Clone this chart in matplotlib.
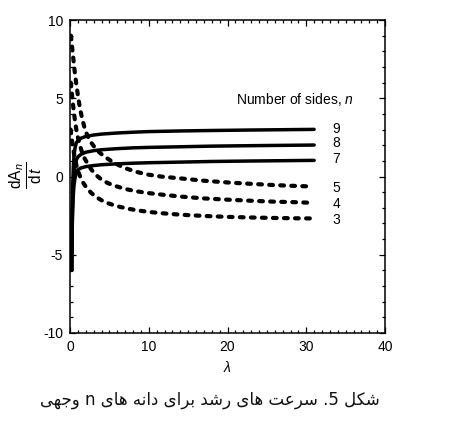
import matplotlib
matplotlib.use('Agg')
import matplotlib.pyplot as plt
from matplotlib.ticker import MultipleLocator

plt.rcParams['font.family'] = ['Liberation Sans', 'DejaVu Sans']
plt.rcParams['mathtext.fontset'] = 'custom'
plt.rcParams['mathtext.rm'] = 'Liberation Sans'
plt.rcParams['mathtext.it'] = 'Liberation Sans:italic'
plt.rcParams['mathtext.sf'] = 'Liberation Sans'
plt.rcParams['axes.unicode_minus'] = False

# growth rate curves, lambda vs dA_n/dt
lam_solid = [0.22, 0.24, 0.27, 0.3, 0.35, 0.42, 0.5, 0.65, 0.8, 1.0, 1.4, 2, 3, 4, 6, 8, 10, 14, 18, 23, 27, 31]
rate_9 = [-6, -4.5, -3, -1.8, -0.5, 0.6, 1.3, 1.85, 2.15, 2.3, 2.45, 2.56, 2.65, 2.71, 2.78, 2.83, 2.87, 2.91, 2.94, 2.97, 2.99, 3.01]
rate_8 = [-6, -4.7, -3.4, -2.4, -1.4, -0.5, 0.1, 0.7, 1.05, 1.25, 1.42, 1.55, 1.65, 1.71, 1.78, 1.83, 1.86, 1.9, 1.94, 1.97, 1.99, 2.01]
rate_7 = [-6, -4.9, -3.8, -2.9, -2.0, -1.2, -0.6, -0.05, 0.25, 0.42, 0.55, 0.63, 0.7, 0.75, 0.81, 0.85, 0.88, 0.92, 0.96, 0.99, 1.01, 1.03]

lam_5 = [0.12, 0.2, 0.3, 0.45, 0.6, 0.8, 1.0, 1.25, 1.5, 1.8, 2.1, 2.5, 3.0, 3.6, 4.3, 5.2, 6.2, 7.2, 8.4, 9.8, 11.5, 14, 17, 20, 23, 26, 28.5, 30.8]
rate_5 = [9.0, 8.6, 8.1, 7.4, 6.7, 5.9, 5.2, 4.4, 3.8, 3.2, 2.75, 2.3, 1.95, 1.6, 1.3, 1.0, 0.72, 0.5, 0.3, 0.13, 0.0, -0.12, -0.27, -0.38, -0.47, -0.55, -0.6, -0.64]
lam_4 = [0.1, 0.2, 0.3, 0.45, 0.6, 0.8, 1.0, 1.25, 1.5, 1.8, 2.2, 2.7, 3.3, 4.0, 4.8, 5.6, 6.5, 7.5, 8.5, 9.8, 11.5, 14, 17, 20, 23, 26, 28.5, 30.2]
rate_4 = [6.0, 5.5, 5.0, 4.3, 3.7, 3.0, 2.5, 2.0, 1.6, 1.2, 0.85, 0.45, 0.1, -0.2, -0.42, -0.58, -0.72, -0.85, -0.95, -1.05, -1.15, -1.28, -1.4, -1.48, -1.55, -1.61, -1.64, -1.67]
lam_3 = [0.08, 0.15, 0.25, 0.4, 0.6, 0.8, 1.0, 1.2, 1.5, 1.8, 2.2, 2.7, 3.3, 4.0, 4.8, 5.6, 6.5, 7.5, 8.5, 9.8, 11.5, 14, 17, 20, 23, 26, 28.5, 30.8]
rate_3 = [3.0, 2.7, 2.3, 1.8, 1.2, 0.75, 0.4, 0.1, -0.25, -0.5, -0.78, -1.05, -1.3, -1.52, -1.7, -1.84, -1.96, -2.07, -2.16, -2.25, -2.34, -2.44, -2.52, -2.58, -2.62, -2.65, -2.67, -2.68]

side_labels = ['9', '8', '7', '5', '4', '3']
side_label_y = [3.02, 2.12, 1.1, -0.75, -1.76, -2.78]

caption = 'شکل 5. سرعت های رشد برای دانه های n وجهی'

# arabic presentation forms: isolated, final, initial, medial
FORMS = {
    'ا': ('\uFE8D', '\uFE8E'), 'د': ('\uFEA9', '\uFEAA'), 'ر': ('\uFEAD', '\uFEAE'),
    'و': ('\uFEED', '\uFEEE'),
    'ب': ('\uFE8F', '\uFE90', '\uFE91', '\uFE92'), 'ت': ('\uFE95', '\uFE96', '\uFE97', '\uFE98'),
    'ج': ('\uFE9D', '\uFE9E', '\uFE9F', '\uFEA0'), 'س': ('\uFEB1', '\uFEB2', '\uFEB3', '\uFEB4'),
    'ش': ('\uFEB5', '\uFEB6', '\uFEB7', '\uFEB8'), 'ع': ('\uFEC9', '\uFECA', '\uFECB', '\uFECC'),
    'ل': ('\uFEDD', '\uFEDE', '\uFEDF', '\uFEE0'), 'ن': ('\uFEE5', '\uFEE6', '\uFEE7', '\uFEE8'),
    'ه': ('\uFEE9', '\uFEEA', '\uFEEB', '\uFEEC'), 'ک': ('\uFB8E', '\uFB8F', '\uFB90', '\uFB91'),
    'ی': ('\uFBFC', '\uFBFD', '\uFBFE', '\uFBFF'),
}


def shape(word):
    out = []
    for i, ch in enumerate(word):
        f = FORMS[ch]
        prev_ok = i > 0 and len(FORMS[word[i - 1]]) == 4
        next_ok = i < len(word) - 1 and len(f) == 4
        if prev_ok and next_ok:
            out.append(f[3])
        elif prev_ok:
            out.append(f[1])
        elif next_ok:
            out.append(f[2])
        else:
            out.append(f[0])
    return ''.join(out[::-1])


def to_visual(text):
    toks = []
    for tok in text.split(' '):
        if tok[0] in FORMS:
            toks.append(shape(tok))
        elif tok.endswith('.'):
            toks.append('.' + tok[:-1])
        else:
            toks.append(tok)
    return ' '.join(toks[::-1])


fig = plt.figure(figsize=(4.5, 4.38), dpi=100)
ax = fig.add_axes([70 / 450, 1 - 333 / 438, 315 / 450, 313 / 438])

for r in [rate_9, rate_8, rate_7]:
    ax.plot(lam_solid, r, color='black', lw=2.5, solid_capstyle='round')
for lam, r in [(lam_5, rate_5), (lam_4, rate_4), (lam_3, rate_3)]:
    ax.plot(lam, r, color='black', lw=3.0, dashes=(0.9, 1.75), dash_capstyle='round')

for lab, yv in zip(side_labels, side_label_y):
    ax.text(33.8, yv, lab, ha='center', va='center', fontsize=10)
ax.text(36.1, 4.9, 'Number of sides, $n$', ha='right', va='center', fontsize=10)

ax.set_xlim(0, 40)
ax.set_ylim(-10, 10)
ax.xaxis.set_major_locator(MultipleLocator(10))
ax.xaxis.set_minor_locator(MultipleLocator(1))
ax.yaxis.set_major_locator(MultipleLocator(5))
ax.yaxis.set_minor_locator(MultipleLocator(1))
ax.tick_params(which='both', direction='in', top=True, right=True, labelsize=10, width=0.9)
ax.tick_params(which='major', length=4, pad=5)
ax.tick_params(which='minor', length=2)
for s in ax.spines.values():
    s.set_linewidth(1.1)

ax.set_xlabel(r'$\lambda$', fontsize=10, labelpad=4)
ax.text(-0.14, 0.505, r'$\frac{\mathsf{dA}_{n}}{\mathsf{d}\,t}$', transform=ax.transAxes,
        rotation=90, ha='center', va='center', fontsize=16)

fig.text(210 / 450, 1 - 400 / 438, to_visual(caption), ha='center', va='center',
         fontsize=12, family=['DejaVu Sans'], color='#111111')

plt.savefig('out.png', dpi=100)
